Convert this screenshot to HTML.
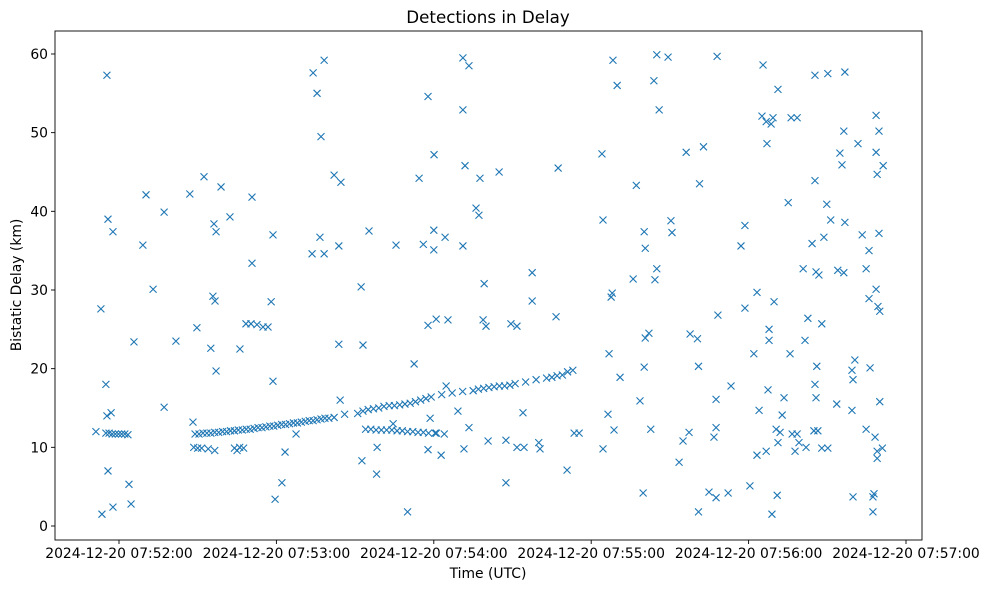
<!DOCTYPE html>
<html><head><meta charset="utf-8"><style>
body{margin:0;background:#fff;}
svg text{font-family:"DejaVu Sans","Liberation Sans",sans-serif;fill:#000;}
</style></head><body>
<svg id="chart" width="988" height="590" xmlns="http://www.w3.org/2000/svg">
<rect width="988" height="590" fill="#fff"/>
<text x="488" y="23" font-size="16.7" text-anchor="middle">Detections in Delay</text>
<text x="488" y="578" font-size="13.9" text-anchor="middle">Time (UTC)</text>
<text transform="translate(21,285) rotate(-90)" font-size="13.9" text-anchor="middle">Bistatic Delay (km)</text>
<g id="marks"></g>
<g id="axes"></g>
</svg>
<script>
// seconds relative to 2024-12-20 07:52:00
const xTickSeconds=[0,60,120,180,240,300];
const xTickLabels=["2024-12-20 07:52:00","2024-12-20 07:53:00","2024-12-20 07:54:00","2024-12-20 07:55:00","2024-12-20 07:56:00","2024-12-20 07:57:00"];
const yTickValues=[0,10,20,30,40,50,60];
const scatterSeconds=[-8.8,-6.9,-6.5,-5,-4.6,-4.6,-4.2,-4.2,-3,-2.3,-2.3,3.8,4.6,5.7,9.1,10.3,13,17.2,17.2,21.7,27,28.2,29.7,32.4,35,35.8,36.2,36.6,37,37,38.9,42.3,46.1,50.7,50.7,48.4,50.3,52.6,54.9,56.8,58.7,58,58.7,59.5,62.1,63.3,67.5,
74,75.5,78.2,77,76.6,73.6,78.2,82,84.6,83.8,83.8,84.3,86,92.3,92.6,95.3,93,98.2,98.4,105.6,110,112.5,114.4,116,117.8,117.8,117.8,120.1,120,120,118.6,120.5,120.9,122.8,124.3,125.4,124.7,131.1,133.4,131.1,131.9,131.1,131.5,129.2,133.4,136.1,137.2,137.6,139.2,138.8,139.9,140.7,144.9,147.5,147.5,149.4,151.7,151.7,154.4,154,157.5,157.5,160,160.5,166.6,167.4,170.8,173.5,175.4,
184.1,184.5,184.5,186.4,186.8,187.6,188,188.3,188.7,189.9,191,196,197.2,198.6,199.8,200.2,200.6,200.6,200.2,202,202.7,203.9,205,205,204.3,205.9,209.3,210.4,210.8,213.5,215,216.2,217.3,217.7,220.5,220.9,220.9,221.3,222.8,224.9,226.8,227.6,227.6,228,228.3,227.6,232.2,233.3,237.1,238.6,240.5,238.6,242,243.2,243.2,244,245.5,245.1,246.7,247,248.6,249.3,246.7,247.8,247.8,247.4,248.9,249.7,250.5,250.9,251.2,251.2,252,252.8,253.5,255.1,255.8,256.2,256.6,257.7,258.5,258.5,259.2,260.8,261.5,261.9,262.6,264.2,264.9,265.3,265.3,265.3,265.7,266,265.7,266.4,266.8,267.9,267.9,268.7,269.8,270.2,270.2,271.3,273.6,274,274.8,275.6,276.3,276.7,276.7,276.3,279.4,279.8,279.8,279.4,280.5,281.7,283.3,284.8,284.8,285.9,285.9,286.3,287.4,287.4,287.8,288.2,288.6,288.6,288.6,289.7,289,289,289,289.7,289.3,290,290,291.3,291,
-5,-3.8,-2.6,-1.4,-0.2,1,2.2,3.4,28.5,30,31.5,34,36.5,44,45,46,47.5,
29,30.5,32,33.5,35,36.5,38,39.5,41,42.5,44,45.5,47,48.5,50,51.5,53,54.5,56,57.5,59,60.5,62,63.5,65,66.5,68,69.5,71,72.5,74,75.5,77,78.5,80,82,
91,93,95,97,99,101,103,105,107,109,111,113,115,117,119,123,127,131,135,137,139,141,143,145,147,149,151,155,159,163,165,167,169,171,173,
94,96,98,100,102,104,106,108,110,112,114,116,118,121,124,104.5];
const scatterDelays=[12.0,27.6,1.5,18.0,57.3,14.0,39.0,7.0,14.4,37.4,2.4,5.3,2.8,23.4,35.7,42.1,30.1,39.9,15.1,23.5,42.2,13.2,25.2,44.4,22.6,29.2,38.4,28.6,37.4,19.7,43.1,39.3,22.5,41.8,33.4,25.7,25.7,25.6,25.3,25.3,37.0,28.5,18.4,3.4,5.5,9.4,11.7,
57.6,55.0,59.2,49.5,36.7,34.6,34.6,44.6,43.7,35.6,23.1,16.0,14.2,30.4,8.3,37.5,23.0,6.6,10.0,35.7,1.8,20.6,44.2,35.8,54.6,25.5,9.7,47.2,37.6,35.1,13.7,11.8,26.3,9.0,36.7,26.2,17.8,59.5,58.5,52.9,45.8,35.6,9.8,14.6,12.5,40.4,39.5,44.2,30.8,26.2,25.4,10.8,45.0,5.5,10.9,25.7,25.4,10.0,10.0,14.4,28.6,32.2,10.6,9.8,26.6,45.5,7.1,11.8,11.8,
47.3,38.9,9.8,14.2,21.9,29.1,29.6,59.2,12.2,56.0,18.9,31.4,43.3,15.9,4.2,37.4,35.3,23.9,20.2,24.5,12.3,56.6,59.9,32.7,31.3,52.9,59.6,38.8,37.3,8.1,10.8,47.5,11.9,24.4,23.8,20.3,1.8,43.5,48.2,4.3,11.3,16.1,3.6,59.7,26.8,12.5,4.2,17.8,35.6,38.2,5.1,27.7,21.9,29.7,9.0,14.7,58.6,52.1,51.4,48.6,51.1,51.9,9.5,25.0,23.6,17.3,1.5,28.5,12.3,3.9,55.5,10.6,11.9,14.1,16.3,41.1,21.9,51.9,11.7,9.5,51.9,11.7,10.6,32.7,23.6,10.0,26.4,35.9,12.1,43.9,57.3,18.0,32.3,20.3,16.3,12.1,31.9,25.7,9.9,36.7,40.9,57.5,9.9,38.9,15.5,32.5,47.4,45.9,50.2,57.7,38.6,32.2,19.8,18.6,3.7,14.7,21.1,48.6,37.0,32.7,12.3,35.0,28.9,20.1,1.8,3.7,4.1,11.3,30.1,52.2,47.5,50.2,44.7,9.5,8.6,37.2,27.9,27.3,15.8,45.8,9.9,
11.8,11.8,11.7,11.7,11.7,11.7,11.7,11.6,10.0,9.9,9.9,9.8,9.6,9.9,9.6,10.0,9.9,
11.7,11.7,11.8,11.8,11.8,11.9,11.9,12.0,12.0,12.1,12.1,12.2,12.2,12.3,12.3,12.4,12.5,12.5,12.6,12.7,12.7,12.8,12.9,12.9,13.0,13.1,13.1,13.2,13.3,13.4,13.4,13.5,13.6,13.7,13.7,13.8,
14.3,14.6,14.8,14.9,15.0,15.2,15.3,15.3,15.4,15.5,15.6,15.8,16.0,16.2,16.4,16.7,16.9,17.1,17.2,17.4,17.5,17.6,17.7,17.8,17.8,17.9,18.1,18.3,18.6,18.8,18.9,19.1,19.2,19.6,19.8,
12.3,12.3,12.2,12.2,12.2,12.2,12.1,12.1,12.0,12.0,11.9,11.9,11.8,11.8,11.7,13.0];

const NS="http://www.w3.org/2000/svg";
const L=55,R=922,T=31,B=540;
function xScale(s){return 119+s*157.4/60;}
function yScale(v){return 526-v*7.867;}
function mk(tag,attrs,parent){const e=document.createElementNS(NS,tag);for(const k in attrs)e.setAttribute(k,attrs[k]);parent.appendChild(e);return e;}
const marks=document.getElementById('marks');
for(let i=0;i<scatterSeconds.length;i++){
  const cx=xScale(scatterSeconds[i]),cy=yScale(scatterDelays[i]),r=3.5;
  const p=mk('path',{d:`M${cx-r},${cy-r}L${cx+r},${cy+r}M${cx-r},${cy+r}L${cx+r},${cy-r}`,stroke:'#1f77b4','stroke-width':1.1,fill:'none'},marks);
  
  
}
const axes=document.getElementById('axes');
const frame=mk('rect',{x:L,y:T,width:R-L,height:B-T,fill:'none',stroke:'#000','stroke-width':0.9},axes);


xTickSeconds.forEach((s,i)=>{
  const x=xScale(s);
  mk('line',{x1:x,x2:x,y1:B,y2:B+4,stroke:'#000','stroke-width':0.9},axes);
  const t=mk('text',{x:x,y:B+18,'font-size':13.9,'text-anchor':'middle'},axes);
  t.textContent=xTickLabels[i];
  
  
});
yTickValues.forEach(v=>{
  const y=yScale(v);
  mk('line',{x1:L-4,x2:L,y1:y,y2:y,stroke:'#000','stroke-width':0.9},axes);
  const t=mk('text',{x:L-7,y:y+5,'font-size':13.9,'text-anchor':'end'},axes);
  t.textContent=String(v);
  
  
});
</script>
</body></html>
